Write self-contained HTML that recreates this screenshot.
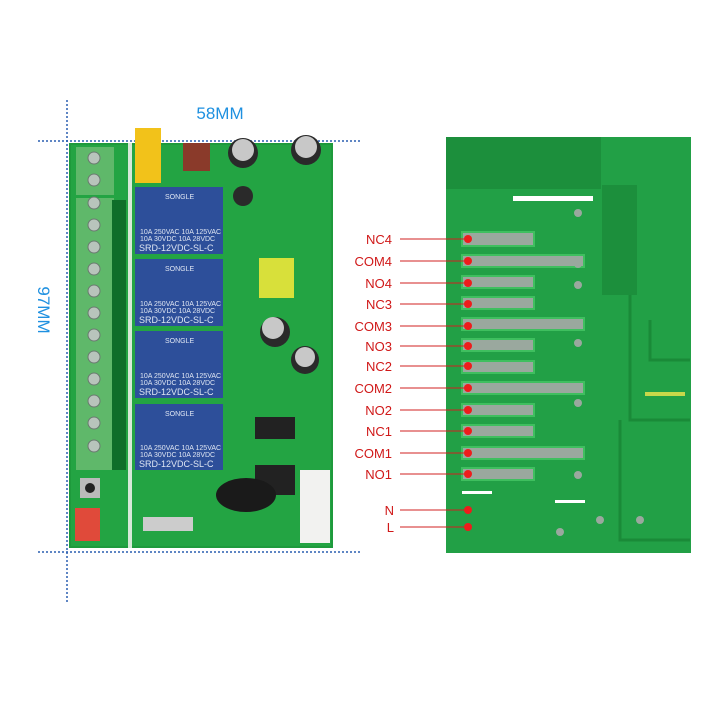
<!DOCTYPE html>
<html><head><style>body{margin:0;background:#fff}svg{display:block}text{font-family:"Liberation Sans",sans-serif}</style></head><body>
<svg width="720" height="720" viewBox="0 0 720 720" xmlns="http://www.w3.org/2000/svg">
<g stroke="#2a5fb0" stroke-width="1.5" stroke-dasharray="2,2">
<line x1="38" y1="141" x2="362" y2="141"/><line x1="38" y1="552" x2="362" y2="552"/>
<line x1="67" y1="100" x2="67" y2="602"/>
</g>
<text x="220" y="119" font-size="17" fill="#1e90e0" text-anchor="middle">58MM</text>
<text x="0" y="0" font-size="17" fill="#1e90e0" text-anchor="middle" transform="translate(38,310) rotate(90)">97MM</text>
<rect x="69" y="143" width="264" height="405" fill="#1e9a3c"/>
<rect x="71" y="145" width="260" height="401" fill="#23a443"/>
<rect x="76" y="147" width="38" height="48" fill="#5fb86a"/>
<rect x="76" y="198" width="38" height="272" fill="#5fb86a"/>
<g fill="#b8c4bc" stroke="#6a7a70">
<circle cx="94" cy="158" r="6"/><circle cx="94" cy="180" r="6"/>
<circle cx="94" cy="203" r="6"/><circle cx="94" cy="225" r="6"/><circle cx="94" cy="247" r="6"/><circle cx="94" cy="269" r="6"/><circle cx="94" cy="291" r="6"/><circle cx="94" cy="313" r="6"/><circle cx="94" cy="335" r="6"/><circle cx="94" cy="357" r="6"/><circle cx="94" cy="379" r="6"/><circle cx="94" cy="401" r="6"/><circle cx="94" cy="423" r="6"/><circle cx="94" cy="446" r="6"/>
</g>
<rect x="112" y="200" width="14" height="270" fill="#0f6e2a"/>
<rect x="128" y="143" width="4" height="405" fill="#d8e8d8"/>
<rect x="135" y="128" width="26" height="55" fill="#f2c21a"/>
<rect x="183" y="143" width="27" height="28" fill="#8a3a2a"/>
<g fill="#2d4f9a">
<rect x="135" y="187" width="88" height="67"/><rect x="135" y="259" width="88" height="67"/>
<rect x="135" y="331" width="88" height="67"/><rect x="135" y="404" width="88" height="66"/>
</g>
<g fill="#dfe6f3" font-size="7">
<text x="165" y="199">SONGLE</text><text x="140" y="234">10A 250VAC 10A 125VAC</text><text x="140" y="241">10A 30VDC 10A 28VDC</text><text x="139" y="251" font-size="9">SRD-12VDC-SL-C</text>
<text x="165" y="271">SONGLE</text><text x="140" y="306">10A 250VAC 10A 125VAC</text><text x="140" y="313">10A 30VDC 10A 28VDC</text><text x="139" y="323" font-size="9">SRD-12VDC-SL-C</text>
<text x="165" y="343">SONGLE</text><text x="140" y="378">10A 250VAC 10A 125VAC</text><text x="140" y="385">10A 30VDC 10A 28VDC</text><text x="139" y="395" font-size="9">SRD-12VDC-SL-C</text>
<text x="165" y="416">SONGLE</text><text x="140" y="450">10A 250VAC 10A 125VAC</text><text x="140" y="457">10A 30VDC 10A 28VDC</text><text x="139" y="467" font-size="9">SRD-12VDC-SL-C</text>
</g>
<g fill="#2a2a2a"><circle cx="243" cy="153" r="15"/><circle cx="306" cy="150" r="15"/><circle cx="243" cy="196" r="10"/><circle cx="275" cy="332" r="15"/><circle cx="305" cy="360" r="14"/></g>
<g fill="#c8c8c8"><circle cx="243" cy="150" r="11"/><circle cx="306" cy="147" r="11"/><circle cx="273" cy="328" r="11"/><circle cx="305" cy="357" r="10"/></g>
<rect x="259" y="258" width="35" height="40" fill="#d8e03a"/>
<rect x="255" y="417" width="40" height="22" fill="#222"/>
<rect x="255" y="465" width="40" height="30" fill="#222"/>
<ellipse cx="246" cy="495" rx="30" ry="17" fill="#1a1a1a"/>
<rect x="300" y="470" width="30" height="73" fill="#f2f2f0"/>
<rect x="75" y="508" width="25" height="33" fill="#e04a3a"/>
<rect x="80" y="478" width="20" height="20" fill="#bbb"/><circle cx="90" cy="488" r="5" fill="#222"/>
<rect x="143" y="517" width="50" height="14" fill="#ccc"/>
<rect x="446" y="137" width="245" height="416" fill="#22a046"/>
<rect x="446" y="137" width="155" height="52" fill="#1c8f3c"/>
<rect x="602" y="185" width="35" height="110" fill="#1c8f3c"/>
<rect x="513" y="196" width="80" height="5" fill="#fff"/>
<g fill="none" stroke="#1a8a38" stroke-width="3">
<path d="M630 295 V420 H690"/><path d="M650 320 V360 H690"/><path d="M620 420 V540 H690"/>
</g>
<g fill="#9aa89e" stroke="#3fbf5f" stroke-width="2">
<rect x="462" y="232" width="72" height="14"/>
<rect x="462" y="255" width="122" height="12"/>
<rect x="462" y="276" width="72" height="12"/>
<rect x="462" y="297" width="72" height="12"/>
<rect x="462" y="318" width="122" height="12"/>
<rect x="462" y="339" width="72" height="12"/>
<rect x="462" y="361" width="72" height="12"/>
<rect x="462" y="382" width="122" height="12"/>
<rect x="462" y="404" width="72" height="12"/>
<rect x="462" y="425" width="72" height="12"/>
<rect x="462" y="447" width="122" height="12"/>
<rect x="462" y="468" width="72" height="12"/>
</g>
<g fill="#9aa89e"><circle cx="578" cy="213" r="4"/><circle cx="578" cy="264" r="4"/><circle cx="578" cy="285" r="4"/><circle cx="578" cy="343" r="4"/><circle cx="578" cy="403" r="4"/><circle cx="578" cy="475" r="4"/><circle cx="600" cy="520" r="4"/><circle cx="640" cy="520" r="4"/><circle cx="560" cy="532" r="4"/></g>
<rect x="645" y="392" width="40" height="4" fill="#c8d84a"/>
<g fill="#fff"><rect x="462" y="491" width="30" height="3"/><rect x="555" y="500" width="30" height="3"/></g>
<g stroke="#d02020" stroke-width="1">
<line x1="400" y1="239" x2="468" y2="239"/><line x1="400" y1="261" x2="468" y2="261"/><line x1="400" y1="283" x2="468" y2="283"/><line x1="400" y1="304" x2="468" y2="304"/><line x1="400" y1="326" x2="468" y2="326"/><line x1="400" y1="346" x2="468" y2="346"/><line x1="400" y1="366" x2="468" y2="366"/><line x1="400" y1="388" x2="468" y2="388"/><line x1="400" y1="410" x2="468" y2="410"/><line x1="400" y1="431" x2="468" y2="431"/><line x1="400" y1="453" x2="468" y2="453"/><line x1="400" y1="474" x2="468" y2="474"/><line x1="400" y1="510" x2="468" y2="510"/><line x1="400" y1="527" x2="468" y2="527"/>
</g>
<g fill="#ee1c1c"><circle cx="468" cy="239" r="4"/><circle cx="468" cy="261" r="4"/><circle cx="468" cy="283" r="4"/><circle cx="468" cy="304" r="4"/><circle cx="468" cy="326" r="4"/><circle cx="468" cy="346" r="4"/><circle cx="468" cy="366" r="4"/><circle cx="468" cy="388" r="4"/><circle cx="468" cy="410" r="4"/><circle cx="468" cy="431" r="4"/><circle cx="468" cy="453" r="4"/><circle cx="468" cy="474" r="4"/><circle cx="468" cy="510" r="4"/><circle cx="468" cy="527" r="4"/></g>
<g fill="#d01818" font-size="13" text-anchor="end">
<text x="392" y="244">NC4</text><text x="392" y="266">COM4</text><text x="392" y="288">NO4</text><text x="392" y="309">NC3</text><text x="392" y="331">COM3</text><text x="392" y="351">NO3</text><text x="392" y="371">NC2</text><text x="392" y="393">COM2</text><text x="392" y="415">NO2</text><text x="392" y="436">NC1</text><text x="392" y="458">COM1</text><text x="392" y="479">NO1</text><text x="394" y="515">N</text><text x="394" y="532">L</text>
</g>
</svg>
</body></html>
